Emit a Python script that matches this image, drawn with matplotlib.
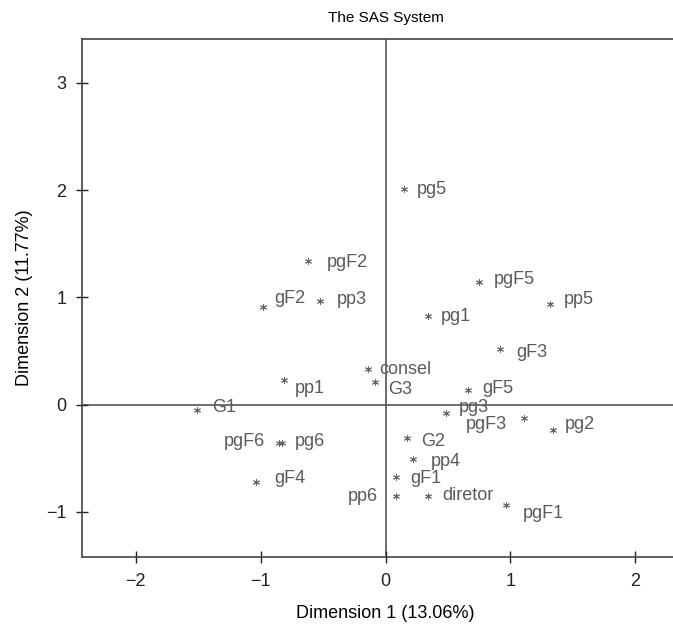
import numpy as np
import matplotlib.pyplot as plt

plt.rcParams['font.family'] = ['Liberation Sans', 'DejaVu Sans']

labels = ["pg5", "pgF2", "gF2", "pp3", "pgF5", "pp5", "pg1", "gF3",
          "consel", "G3", "pp1", "G1", "gF5", "pg3", "pgF3", "pg2",
          "G2", "pp4", "gF1", "pp6", "diretor", "pgF1", "pgF6", "pg6", "gF4"]
dim1 = [0.150, -0.618, -0.983, -0.525, 0.747, 1.315, 0.337, 0.915,
        -0.143, -0.085, -0.815, -1.511, 0.657, 0.481, 1.109, 1.339,
        0.169, 0.217, 0.083, 0.083, 0.337, 0.964, -0.855, -0.831, -1.037]
dim2 = [2.012, 1.343, 0.908, 0.970, 1.141, 0.942, 0.830, 0.520,
        0.333, 0.208, 0.226, -0.047, 0.140, -0.078, -0.124, -0.233,
        -0.311, -0.504, -0.674, -0.855, -0.855, -0.939, -0.357, -0.357, -0.725]

# label placement (pixels, x right / y up) and alignment
label_pos = {
    "pg5": (13, -1, "left"), "pgF2": (18, -2, "left"), "gF2": (12, 9, "left"),
    "pp3": (17, 1, "left"), "pgF5": (15, 3, "left"), "pp5": (14, 4, "left"),
    "pg1": (13, -1, "left"), "gF3": (16, -4, "left"), "consel": (12, -1, "left"),
    "G3": (13, -7, "left"), "pp1": (11, -8, "left"), "G1": (15, 2, "left"),
    "gF5": (15, 1, "left"), "pg3": (13, 6, "left"), "pgF3": (-17, -6, "right"),
    "pg2": (12, 5, "left"), "G2": (15, -3, "left"), "pp4": (18, -3, "left"),
    "gF1": (14, -2, "left"), "pp6": (-18, 0, "right"), "diretor": (15, 1, "left"),
    "pgF1": (17, -8, "left"), "pgF6": (-14, 1, "right"), "pg6": (13, 1, "left"),
    "gF4": (18, 4, "left"),
}

gray = "#5a5a5a"

fig = plt.figure(figsize=(6.73, 6.28), dpi=100)
ax = fig.add_axes([82 / 673, 71 / 628, 607 / 673, 518 / 628])

ax.axhline(0, color="#555555", lw=1.2, zorder=1)
ax.axvline(0, color="#555555", lw=1.2, zorder=1)

ax.scatter(dim1, dim2, marker=(6, 2, 0), s=20, color="#666666", linewidths=0.7, zorder=3)

for lab, x, y in zip(labels, dim1, dim2):
    dx, dy, ha = label_pos[lab]
    ax.annotate(lab, (x, y), xytext=(dx, dy), textcoords="offset pixels",
                ha=ha, va="center", fontsize=13, color=gray)

ax.set_xlim(-2.43, 2.43)
ax.set_ylim(-1.42, 3.41)
ax.set_xticks([-2, -1, 0, 1, 2])
ax.set_yticks([-1, 0, 1, 2, 3])
ax.set_xticklabels(["\u22122", "\u22121", "0", "1", "2"])
ax.set_yticklabels(["\u22121", "0", "1", "2", "3"])
ax.tick_params(direction="inout", length=8.6, width=1, pad=7,
               labelsize=13, colors="#222222")

for sp in ax.spines.values():
    sp.set_color("#444444")
    sp.set_linewidth(1.2)

ax.set_xlabel("Dimension 1 (13.06%)", fontsize=13, labelpad=11)
ax.set_ylabel("Dimension 2 (11.77%)", fontsize=13, labelpad=9)
ax.set_title("The SAS System", fontsize=11, pad=12)

fig.savefig("out.png", dpi=100)
